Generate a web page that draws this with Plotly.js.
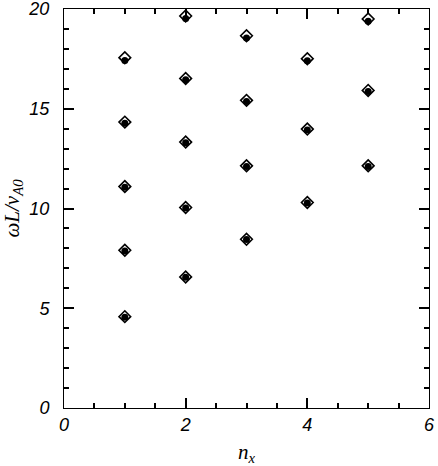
<!DOCTYPE html>
<html>
<head>
<meta charset="utf-8">
<script src="https://cdn.plot.ly/plotly-3.0.1.min.js"></script>
<style>
  html, body { margin: 0; padding: 0; background: #fff; }
  #plot { width: 438px; height: 466px; }
</style>
</head>
<body>
<div id="plot"></div>
<script>
// mode number n_x and frequency values
var nxVals = [1, 1, 1, 1, 1, 2, 2, 2, 2, 2, 3, 3, 3, 3, 4, 4, 4, 5, 5, 5];
var omegaA = [17.56, 14.33, 11.10, 7.91, 4.58,
              19.65, 16.52, 13.33, 10.05, 6.57,
              18.66, 15.42, 12.14, 8.46,
              17.51, 13.98, 10.30,
              19.50, 15.92, 12.14];
var omegaB = [17.42, 14.27, 11.06, 7.87, 4.55,
              19.52, 16.45, 13.29, 10.02, 6.55,
              18.55, 15.36, 12.10, 8.44,
              17.40, 13.93, 10.27,
              19.38, 15.86, 12.11];

var tickFont = { family: 'Liberation Sans, Arial, sans-serif', size: 18, color: '#000', style: 'italic' };
var titleFont = { family: 'Liberation Serif, Times New Roman, serif', size: 21, color: '#000', style: 'italic' };

var diamonds = {
  x: nxVals,
  y: omegaA,
  type: 'scatter',
  mode: 'markers',
  marker: { symbol: 'diamond-open', size: 9, color: '#000', line: { width: 1.6, color: '#000' } },
  hoverinfo: 'x+y'
};

var dots = {
  x: nxVals,
  y: omegaB,
  type: 'scatter',
  mode: 'markers',
  marker: { symbol: 'circle', size: 7, color: '#000' },
  hoverinfo: 'x+y'
};

var layout = {
  width: 438,
  height: 466,
  margin: { l: 64, r: 9, t: 9, b: 58 },
  showlegend: false,
  xaxis: {
    range: [0, 6],
    dtick: 2,
    ticks: 'inside',
    ticklen: 10,
    tickwidth: 2,
    tickcolor: '#000',
    minor: { dtick: 0.5, ticks: 'inside', ticklen: 5, tickwidth: 2, tickcolor: '#000' },
    showline: true,
    linecolor: '#000',
    mirror: 'ticks',
    showgrid: false,
    zeroline: false,
    tickfont: tickFont,
    ticklabeloverflow: 'allow',
    title: { text: '<i>n<sub>x</sub></i>', font: titleFont, standoff: 12 }
  },
  yaxis: {
    range: [0, 20],
    dtick: 5,
    ticks: 'inside',
    ticklen: 10,
    tickwidth: 2,
    tickcolor: '#000',
    minor: { dtick: 1, ticks: 'inside', ticklen: 5, tickwidth: 2, tickcolor: '#000' },
    showline: true,
    linecolor: '#000',
    mirror: 'ticks',
    showgrid: false,
    zeroline: false,
    tickfont: tickFont,
    ticksuffix: '  ',
    ticklabeloverflow: 'allow',
    title: { text: '<i>ωL/v<sub>A0</sub></i>', font: titleFont, standoff: 8 }
  }
};

Plotly.newPlot('plot', [diamonds, dots], layout, { displayModeBar: false });
</script>
</body>
</html>
